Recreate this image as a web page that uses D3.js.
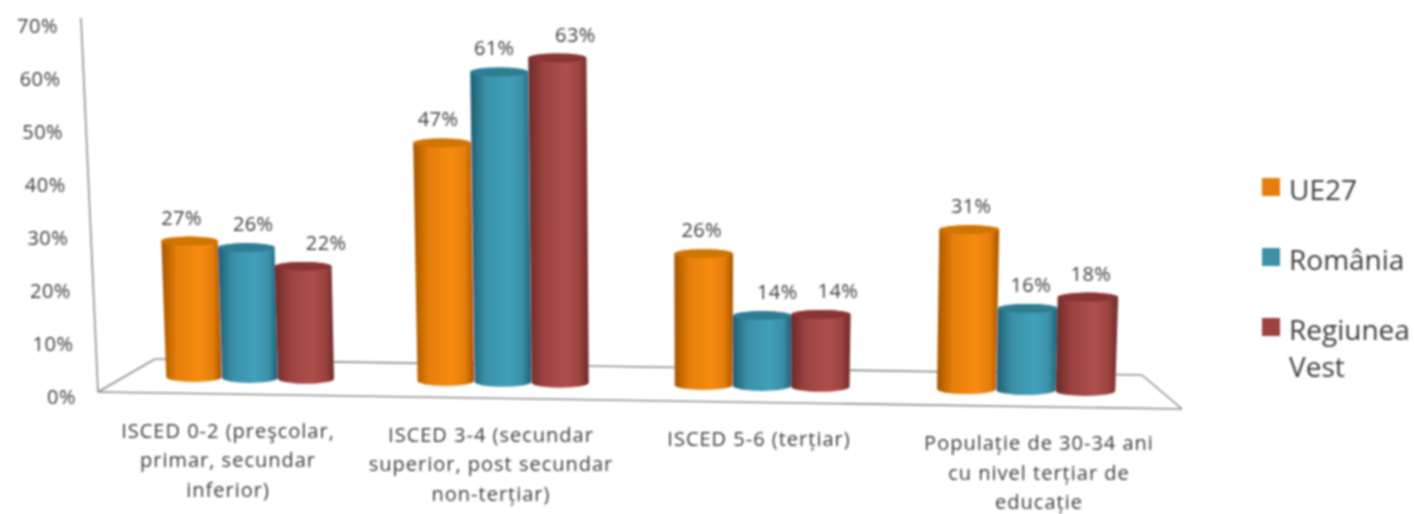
<!DOCTYPE html>
<html><head><meta charset="utf-8">
<script src="https://cdn.jsdelivr.net/npm/d3@7/dist/d3.min.js"></script>
<style>html,body{margin:0;padding:0;background:#fff;overflow:hidden}svg{display:block}text{font-family:"Open Sans",sans-serif;fill:#3c3c3c}</style>
</head><body><svg id="c" width="1414" height="514"></svg>
<script>
const categories = [
  ["ISCED 0-2 (preşcolar,","primar, secundar","inferior)"],
  ["ISCED 3-4 (secundar","superior, post secundar","non-terțiar)"],
  ["ISCED 5-6 (terțiar)"],
  ["Populație de 30-34 ani","cu nivel terțiar de","educație"]
];
const seriesNames = ["UE27","România","Regiunea Vest"];
const ue27    = [26.6,46.5,25.7,31.2];
const romania = [25.5,60.5,13.8,16.0];
const regiune = [22.0,63.4,14.2,18.4];
const yTicks  = [0,10,20,30,40,50,60,70];

// layout (separate from data)
const seriesValues = [ue27,romania,regiune];
const palette = [
  {hi:"#F78B0C",mid:"#E57E08",edge:"#A55500",top:"#D07405"},
  {hi:"#42A0BA",mid:"#3A90A8",edge:"#1E5E70",top:"#2F7D92"},
  {hi:"#AE4F49",mid:"#9C4340",edge:"#6C2A28",top:"#893634"}
];
const labelNudge = [[-8,7,23],[-4,-5,18],[-2,15,17],[2,3,3]];
const svg = d3.select("#c");
const defs = svg.append("defs");
defs.append("filter").attr("id","soft").attr("filterUnits","userSpaceOnUse").attr("x",0).attr("y",0).attr("width",1414).attr("height",514)
  .append("feGaussianBlur").attr("stdDeviation",0.95);
palette.forEach((p,i)=>{
  const g = defs.append("linearGradient").attr("id","g"+i);
  [[0,p.edge],[.25,p.mid],[.62,p.hi],[.85,p.mid],[1,p.edge]].forEach(s=>g.append("stop").attr("offset",s[0]).attr("stop-color",s[1]));
});
const root = svg.append("g").attr("filter","url(#soft)");

const catX = d3.scaleLinear().domain([0,1,2,3]).range([250,503,762,1026]);
const spread = d3.scaleLinear().domain([0,3]).range([56,59.5]);
const seriesStep = d3.scalePoint().domain([0,1,2]).range([-1,1]);
const floorY = d3.scaleLinear().domain([194,1086]).range([382,396]);
const widthAt = d3.scaleLinear().domain([194,1086]).range([55.5,59.5]);
const barH = d3.scaleLinear().domain([0,70]).range([9,368.1]);
const yScale = d3.scaleLinear().domain([0,70]).range([396,25]);
const tickEnd = d3.scaleLinear().domain([0,70]).range([76,58]);
const catLabelX = d3.scaleLinear().domain([0,1,2,3]).range([228,491,759,1039]);

// walls and floor
const lineColor = "#8E8E8E";
const frame = [
  [[81,18],[98,392]],[[98,392],[1182,409]],[[98,392],[155,359]],
  [[155,359],[1142,375]],[[1142,375],[1182,409]]
];
root.append("g").selectAll("path").data(frame).join("path")
  .attr("d",d3.line()).attr("stroke",lineColor).attr("stroke-width",1.6).attr("fill","none");

// y axis
const axis = root.append("g").call(d3.axisLeft(yScale).tickValues(yTicks).tickSize(0).tickFormat(d=>d+"%"));
axis.select(".domain").remove();
axis.selectAll("text").attr("x",0).attr("dy","0.35em").attr("text-anchor","end")
  .style("font-size","20px").style("letter-spacing","0.5px").attr("transform",d=>`translate(${tickEnd(d)},0)`);

// cylinders
const bars = [];
categories.forEach((c,ci)=>seriesNames.forEach((s,si)=>bars.push({ci,si,v:seriesValues[si][ci]})));
bars.forEach(b=>{
  const xb = catX(b.ci)+seriesStep(b.si)*spread(b.ci);
  const w = widthAt(xb), h = barH(b.v), rb=5, rt=4.5;
  const yb = floorY(xb)-rb;
  const lean = (xb-700)*6e-5*h;
  const wt = w+1, xt = xb+lean, yt = floorY(xb)-h+rt;
  b.xt=xt; b.topY=yt-rt;
  const g = root.append("g");
  g.append("path")
   .attr("d",`M${xt-wt/2},${yt}L${xb-w/2},${yb}A${w/2},${rb} 0 0 0 ${xb+w/2},${yb}L${xt+wt/2},${yt}A${wt/2},${rt} 0 0 0 ${xt-wt/2},${yt}Z`)
   .attr("fill",`url(#g${b.si})`);
  g.append("ellipse").attr("cx",xt).attr("cy",yt).attr("rx",wt/2).attr("ry",rt).attr("fill",palette[b.si].top);
});

// value labels
root.append("g").selectAll("text").data(bars).join("text")
  .attr("x",d=>d.xt+labelNudge[d.ci][d.si]).attr("y",d=>d.topY-19).attr("dy","0.35em")
  .attr("text-anchor","middle").style("font-size","20px").style("letter-spacing","0.4px").text(d=>Math.round(d.v)+"%");

// category labels
categories.forEach((lines,i)=>{
  const x = catLabelX(i);
  const t = root.append("text").attr("text-anchor","middle").style("font-size","20px").style("letter-spacing","1px");
  lines.forEach((l,j)=>t.append("tspan").attr("x",x).attr("y",floorY(x)+55+j*29.5).text(l));
});

// legend
const legendY = d3.scalePoint().domain(seriesNames).range([187,327]);
const leg = root.append("g").selectAll("g").data(seriesNames).join("g");
leg.append("rect").attr("x",1262).attr("y",d=>legendY(d)-9).attr("width",18).attr("height",18)
  .attr("fill",(d,i)=>palette[i].mid);
leg.each(function(d){
  const t = d3.select(this).append("text").style("font-size","28px");
  d.split(" ").forEach((w,j)=>t.append("tspan").attr("x",1289).attr("y",legendY(d)+13+j*37).text(w));
});
</script></body></html>
